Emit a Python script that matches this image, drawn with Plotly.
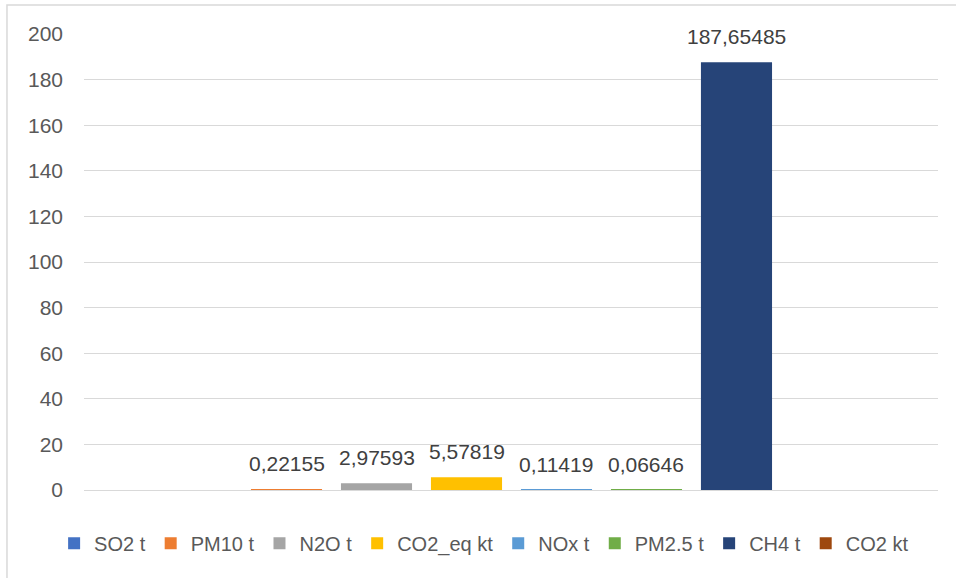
import plotly.graph_objects as go

# Emission totals per pollutant (None = no value reported)
series_names = ["SO2 t", "PM10 t", "N2O t", "CO2_eq kt", "NOx t", "PM2.5 t", "CH4 t", "CO2 kt"]
series_values = [None, 0.22155, 2.97593, 5.57819, 0.11419, 0.06646, 187.65485, None]
series_colors = ["#4472C4", "#ED7D31", "#A5A5A5", "#FFC000", "#5B9BD5", "#70AD47", "#264478", "#9E480E"]
y_ticks = [0, 20, 40, 60, 80, 100, 120, 140, 160, 180, 200]

FONT = "Liberation Sans"
TEXT_COLOR = "#595959"

fig = go.Figure()
annotations = []
for i, (name, val, col) in enumerate(zip(series_names, series_values, series_colors)):
    fig.add_trace(go.Bar(
        x=[i], y=[val], name=name, width=0.79,
        marker=dict(color=col, line=dict(width=0)),
        hoverinfo="name+y",
    ))
    if val is not None:
        annotations.append(dict(
            x=i, y=val, xref="x", yref="y",
            text=f"{val:.5f}".replace(".", ","),
            showarrow=False, yanchor="bottom", yshift=12,
            font=dict(family=FONT, size=21, color="#404040"),
        ))

fig.update_layout(
    width=956, height=578,
    margin=dict(l=84, r=18, t=34, b=88, autoexpand=False),
    paper_bgcolor="white", plot_bgcolor="white",
    font=dict(family=FONT, size=21, color=TEXT_COLOR),
    showlegend=True,
    legend=dict(
        orientation="h", x=-0.035, xanchor="left", y=-0.074, yanchor="top",
        font=dict(family=FONT, size=20, color=TEXT_COLOR),
        itemwidth=30, tracegroupgap=0,
    ),
    xaxis=dict(
        range=[-1.25, 8.239], showticklabels=False, showgrid=False,
        zeroline=False, fixedrange=True,
    ),
    yaxis=dict(
        range=[0, 200], tickvals=y_ticks, showgrid=True, gridcolor="#D9D9D9",
        gridwidth=1, zeroline=True, zerolinecolor="#D9D9D9", zerolinewidth=1,
        showline=False, ticks="", ticklabelstandoff=20,
        tickfont=dict(family=FONT, size=21, color=TEXT_COLOR),
    ),
    annotations=annotations,
    shapes=[dict(
        type="rect", xref="paper", yref="paper",
        x0=-0.0902, x1=1.1, y0=-0.3, y1=1.0636,
        line=dict(color="#D9D9D9", width=1.5), layer="below",
    )],
)

fig.write_html("out.html")
